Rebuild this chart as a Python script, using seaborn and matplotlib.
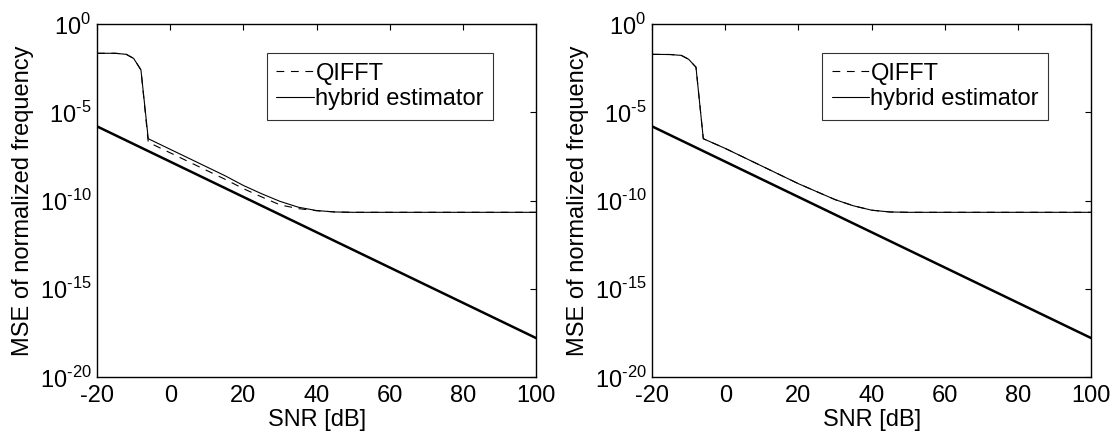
import numpy as np
import pandas as pd
import seaborn as sns
import matplotlib
matplotlib.use("Agg")
import matplotlib.pyplot as plt
from matplotlib.ticker import FuncFormatter, NullLocator

sns.set_style("white")
plt.rcParams['font.family'] = ['Liberation Sans', 'DejaVu Sans']
plt.rcParams['mathtext.fontset'] = 'custom'
plt.rcParams['mathtext.rm'] = 'Liberation Sans'
plt.rcParams['axes.unicode_minus'] = False
plt.rcParams['text.color'] = 'k'
plt.rcParams['axes.labelcolor'] = 'k'

# SNR grid [dB]
snr = [-20, -15, -12, -10, -8, -6, 0, 5, 10, 15, 20, 25, 30, 35, 40, 45, 50, 60, 70, 80, 90, 100]

# log10 of MSE
crb_log = [-5.8, -6.3, -6.6, -6.8, -7.0, -7.2, -7.8, -8.3, -8.8, -9.3, -9.8, -10.3, -10.8,
           -11.3, -11.8, -12.3, -12.8, -13.8, -14.8, -15.8, -16.8, -17.8]

left_hybrid_log = [-1.66, -1.66, -1.72, -1.95, -2.6, -6.5, -7.1, -7.6, -8.1, -8.6, -9.15, -9.62,
                   -10.05, -10.38, -10.57, -10.65, -10.67, -10.67, -10.67, -10.67, -10.67, -10.67]
left_qifft_log = [-1.66, -1.66, -1.72, -1.95, -2.6, -6.7, -7.3, -7.8, -8.3, -8.8, -9.33, -9.8,
                  -10.25, -10.46, -10.58, -10.65, -10.67, -10.67, -10.67, -10.67, -10.67, -10.67]

right_hybrid_log = [-1.72, -1.73, -1.78, -2.0, -2.45, -6.5, -7.05, -7.55, -8.05, -8.55, -9.05, -9.5,
                    -9.95, -10.3, -10.55, -10.65, -10.67, -10.67, -10.67, -10.67, -10.67, -10.67]
right_qifft_log = right_hybrid_log

xticks = [-20, 0, 20, 40, 60, 80, 100]
yticks = [1e-20, 1e-15, 1e-10, 1e-5, 1e0]


def pow10(v, pos):
    e = int(round(np.log10(v)))
    return r"$10^{\text{%d}}$" % e


fig = plt.figure(figsize=(11.15, 4.33), dpi=100)
ax1 = fig.add_axes([0.087, 0.1293, 0.394, 0.8153])
ax2 = fig.add_axes([0.5848, 0.1293, 0.394, 0.8153])

panels = [(ax1, left_qifft_log, left_hybrid_log), (ax2, right_qifft_log, right_hybrid_log)]
for ax, q, h in panels:
    df = pd.DataFrame({"snr": snr, "crb": 10.0 ** np.array(crb_log),
                       "qifft": 10.0 ** np.array(q), "hybrid": 10.0 ** np.array(h)})
    sns.lineplot(data=df, x="snr", y="qifft", ax=ax, color="k", lw=0.8,
                 linestyle=(0, (7, 6)), label="QIFFT")
    sns.lineplot(data=df, x="snr", y="hybrid", ax=ax, color="k", lw=0.8,
                 label="hybrid estimator")
    sns.lineplot(data=df, x="snr", y="crb", ax=ax, color="k", lw=1.8)

    ax.set_yscale("log")
    ax.set_xlim(-20, 100)
    ax.set_ylim(1e-20, 1e0)
    ax.set_xticks(xticks)
    ax.set_yticks(yticks)
    ax.yaxis.set_major_formatter(FuncFormatter(pow10))
    ax.yaxis.set_minor_locator(NullLocator())
    ax.tick_params(direction="in", length=4, width=0.8, top=True, right=True,
                   labelsize=17, colors="k")
    ax.tick_params(axis="x", pad=6)
    ax.tick_params(axis="y", pad=4)
    for sp in ax.spines.values():
        sp.set_visible(True)
        sp.set_color("k")
        sp.set_linewidth(1.0)
    ax.set_xlabel("SNR [dB]", fontsize=17, labelpad=1)
    ax.set_ylabel("MSE of normalized frequency", fontsize=17, labelpad=4)

    leg = ax.legend(loc="upper left", bbox_to_anchor=(0.387, 0.917), borderaxespad=0,
                    fontsize=17, handlelength=1.6, handletextpad=0.05, labelspacing=0.15,
                    borderpad=0.4, frameon=True, fancybox=False)
    leg.get_frame().set_edgecolor("k")
    leg.get_frame().set_linewidth(0.8)

fig.savefig("out.png", dpi=100, facecolor="white")
